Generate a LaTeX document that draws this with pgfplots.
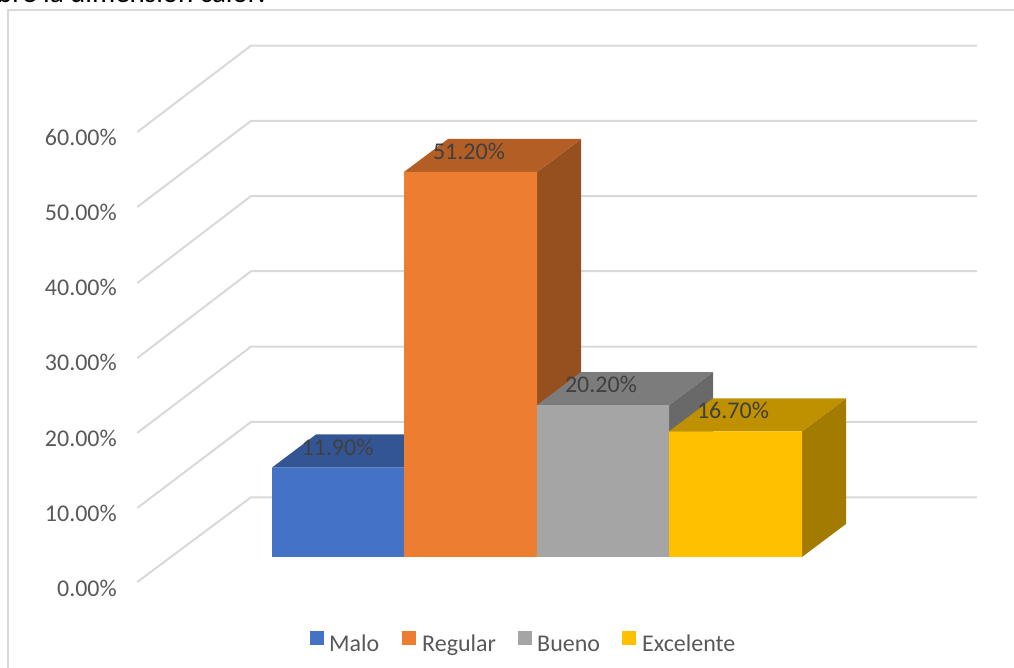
\documentclass[border=0pt]{standalone}
\usepackage{fontspec}
\setmainfont{Carlito}
\usepackage{pgfplots}
\pgfplotsset{compat=1.18}
\definecolor{gridc}{HTML}{D9D9D9}
\definecolor{txtc}{HTML}{595959}
\definecolor{lblc}{HTML}{404040}
\definecolor{bluef}{HTML}{4472C4}\definecolor{bluet}{HTML}{335593}\definecolor{blues}{HTML}{2B4A7D}
\definecolor{oranf}{HTML}{ED7D31}\definecolor{orant}{HTML}{B25E25}\definecolor{orans}{HTML}{964F1E}
\definecolor{grayf}{HTML}{A5A5A5}\definecolor{grayt}{HTML}{7C7C7C}\definecolor{grays}{HTML}{696969}
\definecolor{yellf}{HTML}{FFC000}\definecolor{yellt}{HTML}{BF9000}\definecolor{yells}{HTML}{A37B00}
\pgfplotsset{
  wall/.style={draw=gridc,line width=2pt,no marks,forget plot},
  face/.style={fill=#1,draw=none,no marks,forget plot},
}
\begin{document}
\begin{tikzpicture}[x=1pt,y=1pt]
\clip (0,0) rectangle (1014,667);
% heading line of the surrounding page, cut by the top edge
\node[anchor=base east,inner sep=0,text=black,font=\fontsize{29}{32}\selectfont] at (266,664.5) {sobre la dimensión calor:};
% chart area frame
\draw[gridc,line width=1.6pt] (8,-2) -- (8,657) -- (1016,657);
\begin{axis}[
  at={(118pt,0pt)},anchor=south west,
  scale only axis,width=896pt,height=667pt,
  xmin=118,xmax=1014,ymin=-14.63,ymax=74.07,
  clip=false,
  axis line style={draw=none},
  tick style={draw=none},
  major tick length=0pt,
  xtick=\empty,
  ytick={0,10,20,30,40,50,60},
  yticklabels={0.00\%,10.00\%,20.00\%,30.00\%,40.00\%,50.00\%,60.00\%},
  y tick label style={anchor=east,inner xsep=0pt,yshift=-31.5pt,xshift=-1pt,text=txtc,font=\fontsize{24}{28}\selectfont},
]
% walls: one line per gridline, from the front edge to the back and across
\addplot[wall] coordinates {(137.3,-3.32) (251,7.94) (977,7.94)};
\addplot[wall] coordinates {(137.3,6.52) (251,17.96) (977,17.96)};
\addplot[wall] coordinates {(137.3,16.5) (251,27.98) (977,27.98)};
\addplot[wall] coordinates {(137.3,26.46) (251,38) (977,38)};
\addplot[wall] coordinates {(137.3,36.44) (251,48) (977,48)};
\addplot[wall] coordinates {(137.3,46.55) (251,58) (977,58)};
\addplot[wall] coordinates {(137.3,56.52) (251,68) (977,68)};
% Malo 11.9
\addplot[face=blues] coordinates {(404,0) (448,4.39) (448,16.29) (404,11.9) (404,0)};
\addplot[face=bluet] coordinates {(272,11.9) (316,16.29) (448,16.29) (404,11.9) (272,11.9)};
\addplot[face=bluef] coordinates {(272,0) (272,11.9) (404,11.9) (404,0) (272,0)};
% Regular 51.2
\addplot[face=orans] coordinates {(537,0) (581,4.39) (581,55.59) (537,51.2) (537,0)};
\addplot[face=orant] coordinates {(404,51.2) (448,55.59) (581,55.59) (537,51.2) (404,51.2)};
\addplot[face=oranf] coordinates {(404,0) (404,51.2) (537,51.2) (537,0) (404,0)};
% Bueno 20.2
\addplot[face=grays] coordinates {(669,0) (713,4.39) (713,24.59) (669,20.2) (669,0)};
\addplot[face=grayt] coordinates {(537,20.2) (581,24.59) (713,24.59) (669,20.2) (537,20.2)};
\addplot[face=grayf] coordinates {(537,0) (537,20.2) (669,20.2) (669,0) (537,0)};
% Excelente 16.7
\addplot[face=yells] coordinates {(802,0) (846,4.39) (846,21.09) (802,16.7) (802,0)};
\addplot[face=yellt] coordinates {(669,16.7) (713,21.09) (846,21.09) (802,16.7) (669,16.7)};
\addplot[face=yellf] coordinates {(669,0) (669,16.7) (802,16.7) (802,0) (669,0)};
% value labels, sitting on the top faces
\begin{scope}[every node/.style={text=lblc,font=\fontsize{24}{28}\selectfont,inner sep=0pt}]
\node[yshift=20.5pt] at (axis cs:337.5,11.9) {11.90\%};
\node[yshift=21pt] at (axis cs:469,51.2) {51.20\%};
\node[yshift=20.5pt] at (axis cs:601,20.2) {20.20\%};
\node[yshift=20.5pt] at (axis cs:733,16.7) {16.70\%};
\end{scope}
\end{axis}
% legend
\begin{scope}[every node/.style={anchor=base west,inner sep=0pt,text=txtc,font=\fontsize{24}{28}\selectfont}]
\fill[bluef] (310,22) rectangle (324,36);
\node at (329,16) {Malo};
\fill[oranf] (402,22) rectangle (416,36);
\node at (422,16) {Regular};
\fill[grayf] (518,22) rectangle (532,36);
\node at (537,16) {Bueno};
\fill[yellf] (622,22) rectangle (636,36);
\node at (642,16) {Excelente};
\end{scope}
\end{tikzpicture}
\end{document}
